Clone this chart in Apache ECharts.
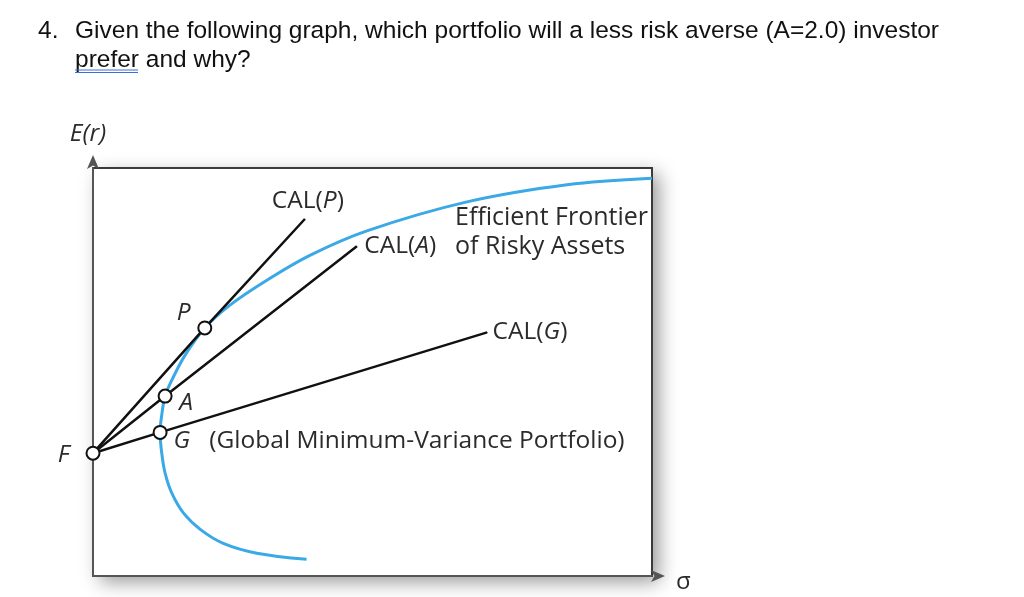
<!DOCTYPE html>
<html><head><meta charset="utf-8">
<script src="https://cdn.jsdelivr.net/npm/echarts@6/dist/echarts.min.js"></script>
<style>html,body{margin:0;padding:0;background:#fff}#c{width:1024px;height:597px}</style>
</head><body><div id="c"></div>
<script>
// Efficient frontier of risky assets (sigma, E(r)) in arbitrary chart units
const frontierX = [38.2, 29.3, 23.3, 19.3, 16.2, 14.1, 12.9, 12.3, 12.0, 12.3, 12.9, 14.1, 16.5, 20.0, 24.5, 31.1, 38.8, 49.0, 66.9, 84.8, 100];
const frontierY = [4.1, 5.6, 8.0, 11.3, 15.4, 20.3, 25.2, 30.1, 35.2, 39.5, 44.1, 48.0, 54.2, 60.8, 66.4, 72.5, 78.6, 84.6, 91.7, 95.9, 97.5];
// Risk-free asset F
const riskFreeX = 0;
const riskFreeY = 30.1;
// Portfolios on the frontier
const portNames = ['P', 'A', 'G'];
const portX = [20.0, 12.9, 12.0];
const portY = [60.8, 44.1, 35.2];
// End points of the capital allocation lines
const calNames = ['CAL(P)', 'CAL(A)', 'CAL(G)'];
const calEndX = [37.9, 47.2, 70.5];
const calEndY = [87.5, 80.8, 59.7];

const question1 = 'Given the following graph, which portfolio will a less risk averse (A=2.0) investor';
const question2 = 'prefer and why?';

const FONT = 'Open Sans';
const TXT = '#2b2b2b';
const FS = 24.5;
const rich = {
  n: {fontFamily: FONT, fontSize: FS, color: TXT},
  i: {fontFamily: FONT, fontSize: FS, color: TXT, fontStyle: 'italic'}
};

const calLabelPos = [
  {position: 'top', distance: 5, offset: [3, 0]},
  {position: 'right', distance: 7},
  {position: 'right', distance: 5}
];
const calSeries = portNames.map((p, k) => ({
  type: 'line', z: 3,
  data: [[riskFreeX, riskFreeY], [portX[k], portY[k]], {
    value: [calEndX[k], calEndY[k]],
    label: Object.assign({show: true, formatter: '{n|CAL(}{i|' + p + '}{n|)}', rich: rich}, calLabelPos[k])
  }],
  symbol: 'circle', symbolSize: 1, showSymbol: true, showAllSymbol: true,
  itemStyle: {color: '#111'},
  label: {show: false},
  lineStyle: {color: '#111', width: 2.5},
  silent: true, animation: false
}));

const portLabel = [
  {offset: [-21, -15], formatter: '{i|P}'},
  {offset: [21, 7], formatter: '{i|A}'},
  {offset: [0, 9], position: 'right', distance: 6, formatter: '{i|G}{n|   (Global Minimum-Variance Portfolio)}'}
];
const pointsData = [{value: [riskFreeX, riskFreeY], label: {show: true, position: 'left', distance: 16, offset: [0, 2], formatter: '{i|F}', rich: rich}}]
  .concat(portNames.map((p, k) => ({
    value: [portX[k], portY[k]],
    label: Object.assign({show: true, position: 'inside', rich: rich}, portLabel[k])
  })));

const QFONT = '24.5px "Liberation Sans", Arial';
const chart = echarts.init(document.getElementById('c'), null, {renderer: 'canvas'});
chart.setOption({
  backgroundColor: '#fff',
  animation: false,
  grid: {
    left: 93, top: 168, width: 559, height: 408,
    show: true, borderColor: '#3a3a3a', borderWidth: 2
  },
  graphic: [
    {type: 'rect', z: -10, shape: {x: 93, y: 168, width: 559, height: 408},
     style: {fill: '#fff', shadowBlur: 18, shadowColor: 'rgba(0,0,0,0.4)', shadowOffsetX: 7, shadowOffsetY: 6}},
    {type: 'text', left: 38, top: 19, style: {text: '4.', font: QFONT, fill: '#111'}},
    {type: 'text', left: 75, top: 19, style: {text: question1, font: QFONT, fill: '#111'}},
    {type: 'text', left: 75, top: 48, style: {text: question2, font: QFONT, fill: '#111'}},
    {type: 'line', shape: {x1: 75, y1: 70, x2: 138, y2: 70}, style: {stroke: '#3b6fd8', lineWidth: 1}},
    {type: 'line', shape: {x1: 75, y1: 72.5, x2: 138, y2: 72.5}, style: {stroke: '#3b6fd8', lineWidth: 1}},
    {type: 'text', left: 455, top: 203, style: {text: 'Efficient Frontier\nof Risky Assets', font: '25px "Open Sans"', fill: TXT, lineHeight: 29}}
  ],
  xAxis: {
    type: 'value', min: 0, max: 100,
    axisLine: {show: true, onZero: false, lineStyle: {color: '#555', width: 2}, symbol: ['none', 'arrow'], symbolSize: [9, 14], symbolOffset: [0, 13]},
    axisTick: {show: false}, axisLabel: {show: false}, splitLine: {show: false},
    name: '{s|σ}', nameLocation: 'end', nameGap: 24,
    nameTextStyle: {verticalAlign: 'middle', rich: {s: {fontFamily: FONT, fontSize: 24, color: TXT, padding: [12, 0, 0, 0]}}}
  },
  yAxis: {
    type: 'value', min: 0, max: 100,
    axisLine: {show: true, onZero: false, lineStyle: {color: '#555', width: 2}, symbol: ['none', 'arrow'], symbolSize: [9, 14], symbolOffset: [0, 13]},
    axisTick: {show: false}, axisLabel: {show: false}, splitLine: {show: false},
    name: 'E(r)', nameLocation: 'end', nameGap: 21,
    nameTextStyle: {fontFamily: FONT, fontSize: FS, color: TXT, fontStyle: 'italic', align: 'center', padding: [0, 10, 0, 0]}
  },
  series: [
    {
      type: 'line', z: 2, smooth: 0.35,
      data: frontierX.map((x, i) => [x, frontierY[i]]),
      symbol: 'none', lineStyle: {color: '#3aa9e6', width: 3}, silent: true
    }
  ].concat(calSeries).concat([
    {
      type: 'scatter', z: 5, clip: false,
      data: pointsData,
      symbol: 'circle', symbolSize: 13,
      itemStyle: {color: '#fff', borderColor: '#111', borderWidth: 2, opacity: 1},
      silent: true
    }
  ])
});
</script></body></html>
